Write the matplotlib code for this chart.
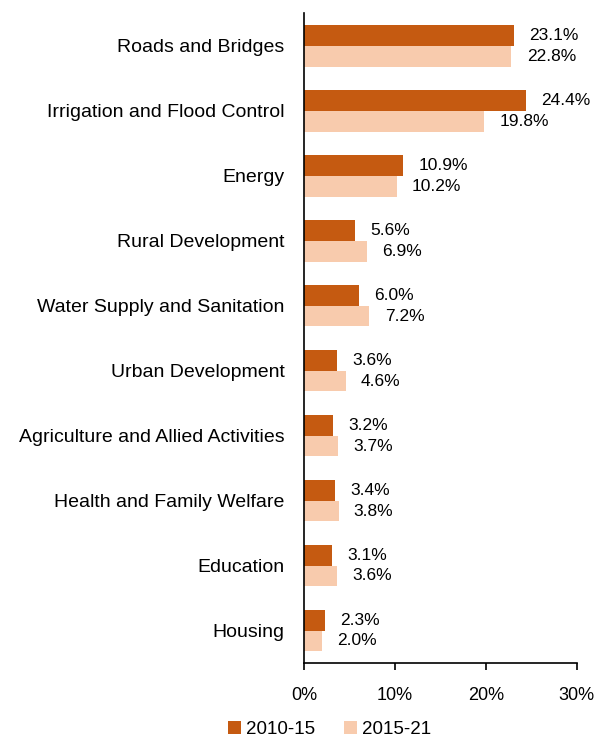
import matplotlib
matplotlib.use("Agg")
import matplotlib.pyplot as plt
import numpy as np

categories = ["Roads and Bridges", "Irrigation and Flood Control", "Energy",
              "Rural Development", "Water Supply and Sanitation", "Urban Development",
              "Agriculture and Allied Activities", "Health and Family Welfare",
              "Education", "Housing"]
s2010 = [23.1, 24.4, 10.9, 5.6, 6.0, 3.6, 3.2, 3.4, 3.1, 2.3]
s2015 = [22.8, 19.8, 10.2, 6.9, 7.2, 4.6, 3.7, 3.8, 3.6, 2.0]
series_names = ["2010-15", "2015-21"]
xticks = [0, 10, 20, 30]

plt.rcParams['font.family'] = ['Liberation Sans', 'DejaVu Sans']

fig = plt.figure(figsize=(5.99, 7.40), dpi=100)
ax = fig.add_axes([0.5075, 0.104, 0.963 - 0.5075, 0.878])

y = np.arange(len(categories))
h = 0.32
c1 = "#C55A11"
c2 = "#F8CBAD"
b1 = ax.barh(y - h/2, s2010, height=h, color=c1, label=series_names[0])
b2 = ax.barh(y + h/2, s2015, height=h, color=c2, label=series_names[1])

for yi, v in zip(y, s2010):
    ax.annotate(f"{v:.1f}%", (v, yi - h/2), xytext=(11, 0), textcoords="offset points",
                va="center", ha="left", fontsize=12.5)
for yi, v in zip(y, s2015):
    ax.annotate(f"{v:.1f}%", (v, yi + h/2), xytext=(11, 0), textcoords="offset points",
                va="center", ha="left", fontsize=12.5)

ax.set_ylim(len(categories) - 0.5, -0.5)
ax.set_xlim(0, 30)
ax.set_xticks(xticks)
ax.set_xticklabels([f"{t}%" for t in xticks], fontsize=13)
ax.set_yticks(y)
ax.set_yticklabels(categories, fontsize=14)
ax.tick_params(axis='y', length=0, pad=14)
ax.tick_params(axis='x', length=5, width=1.2, direction='out', pad=12)
for s in ["top", "right"]:
    ax.spines[s].set_visible(False)
ax.spines["left"].set_linewidth(1.2)
ax.spines["bottom"].set_linewidth(1.2)

fig.legend(handles=[b1, b2], labels=series_names, loc="lower center",
           bbox_to_anchor=(0.55, -0.02), ncol=2, frameon=False, fontsize=13.5,
           handlelength=0.7, handleheight=0.7, handletextpad=0.3, columnspacing=1.5)

fig.savefig("out.png", dpi=100)
